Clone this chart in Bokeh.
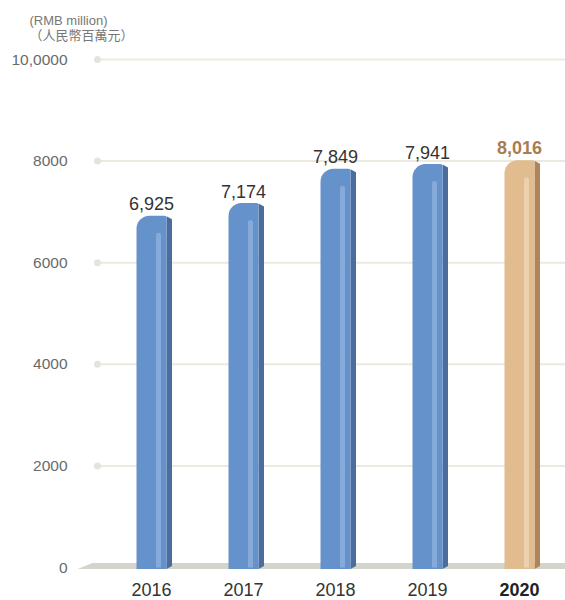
from bokeh.plotting import figure
from bokeh.models import Range1d, FixedTicker, Title
from bokeh.embed import file_html
from bokeh.resources import INLINE
from bokeh.core.properties import value

# ---------------- data ----------------
years = ["2016", "2017", "2018", "2019", "2020"]
revenue = [6925, 7174, 7849, 7941, 8016]
value_labels = ["6,925", "7,174", "7,849", "7,941", "8,016"]
y_ticks = [0, 2000, 4000, 6000, 8000, 10000]
y_tick_labels = ["0", "2000", "4000", "6000", "8000", "10,0000"]
unit_en = "(RMB million)"
unit_zh = "（人民幣百萬元）"

# ---------------- geometry (pixel -> data helpers) ----------------
W, H = 565, 600
LEFT = 75
TOP = 48
PXX = 1.0 / 92.0          # data units per pixel (x)
PXY = 10000.0 / 508.0     # data units per pixel (y)
X0 = 151                  # pixel x of first bar centre
Y0 = 567                  # pixel y of value 0

x_start = (LEFT - X0) * PXX
x_end = (W - X0) * PXX
y_end = (Y0 - TOP) * PXY
y_start = (Y0 - H) * PXY

FONT = "Liberation Sans, Helvetica, Arial, sans-serif"
MIXED = "Liberation Sans, Noto Sans CJK TC, sans-serif"

BLUE, BLUE_SIDE, BLUE_HI = "#6692cc", "#4a6d9e", "#8aaddb"
GOLD, GOLD_SIDE, GOLD_HI = "#e0bc8e", "#b08458", "#edd3b2"

p = figure(width=W, height=H, output_backend="svg", toolbar_location=None,
           x_range=Range1d(x_start, x_end), y_range=Range1d(y_start, y_end),
           x_axis_location=None, y_axis_location="left",
           min_border_left=LEFT, min_border_right=0, min_border_top=TOP,
           min_border_bottom=0)
p.outline_line_color = None
p.grid.visible = False
p.background_fill_color = "white"
p.border_fill_color = "white"

ax = p.yaxis[0]
ax.ticker = FixedTicker(ticks=y_ticks)
ax.major_label_overrides = {t: l for t, l in zip(y_ticks, y_tick_labels)}
ax.axis_line_color = None
ax.major_tick_line_color = None
ax.minor_tick_line_color = None
ax.major_tick_in = 0
ax.major_tick_out = 0
ax.major_label_standoff = 8
ax.major_label_text_font = FONT
ax.major_label_text_font_size = "15.5px"
ax.major_label_text_color = "#6a6a6a"

# unit title (two lines)
p.add_layout(Title(text=unit_en + "\n" + unit_zh, align="left", offset=-46,
                   text_font=MIXED, text_font_size="13px",
                   text_font_style="normal", text_color="#777777",
                   text_line_height=1.0, standoff=12), "above")

# grid lines with dots
gx = (97 - X0) * PXX
grid_vals = [t for t in y_ticks if t > 0]
p.segment(x0=[gx] * len(grid_vals), y0=grid_vals, x1=[x_end] * len(grid_vals),
          y1=grid_vals, line_color="#ebe9e0", line_width=2)
p.scatter(x=[gx] * len(grid_vals), y=grid_vals, size=7, fill_color="#e6e4da",
          line_color=None)

# floor
p.patch(x=[(77 - X0) * PXX, (92 - X0) * PXX, x_end, x_end],
        y=[-1.5 * PXY, 4.5 * PXY, 4.5 * PXY, -1.5 * PXY],
        fill_color="#d3d4cc", line_color=None)

idx = list(range(len(years)))
front_colors = [BLUE] * 4 + [GOLD]
side_colors = [BLUE_SIDE] * 4 + [GOLD_SIDE]
hi_colors = [BLUE_HI] * 4 + [GOLD_HI]

fw = 30 * PXX
sw = 5.5 * PXX
bottom = -1.5 * PXY

# side faces
xs, ys = [], []
for i, v in zip(idx, revenue):
    xr = i + fw / 2
    xs.append([xr, xr + sw, xr + sw, xr])
    ys.append([v - 0.5 * PXY, v - 3.5 * PXY, bottom + 3 * PXY, bottom])
p.patches(xs=xs, ys=ys, fill_color=side_colors, line_color=None)

# front faces
p.vbar(x=idx, top=revenue, bottom=bottom, width=fw, fill_color=front_colors,
       line_color=None, border_radius=(13, 2, 0, 0))

# highlight stripes
p.vbar(x=[i + 7 * PXX for i in idx], top=[v - 17 * PXY for v in revenue],
       bottom=0, width=5 * PXX, fill_color=hi_colors, line_color=None,
       border_radius=(3, 3, 0, 0), fill_alpha=0.9)

# value labels
p.text(x=idx[:4], y=[v + 12 * PXY for v in revenue[:4]], text=value_labels[:4],
       text_align="center", text_baseline="alphabetic",
       text_font=value(FONT), text_font_size="18px", text_color="#333333")
p.text(x=idx[4:], y=[v + 13 * PXY for v in revenue[4:]], text=value_labels[4:],
       text_align="center", text_baseline="alphabetic",
       text_font=value(FONT), text_font_size="18px", text_font_style="bold",
       text_color="#a97d52")

# category labels
lab_y = (Y0 - 589) * PXY
p.text(x=idx[:4], y=[lab_y] * 4, text=years[:4], text_align="center",
       text_baseline="middle", text_font=value(FONT),
       text_font_size="18px", text_color="#333333")
p.text(x=idx[4:], y=[lab_y], text=years[4:], text_align="center",
       text_baseline="middle", text_font=value(FONT),
       text_font_size="18px", text_font_style="bold", text_color="#222222")

open("out.html", "w").write(file_html(p, INLINE))
